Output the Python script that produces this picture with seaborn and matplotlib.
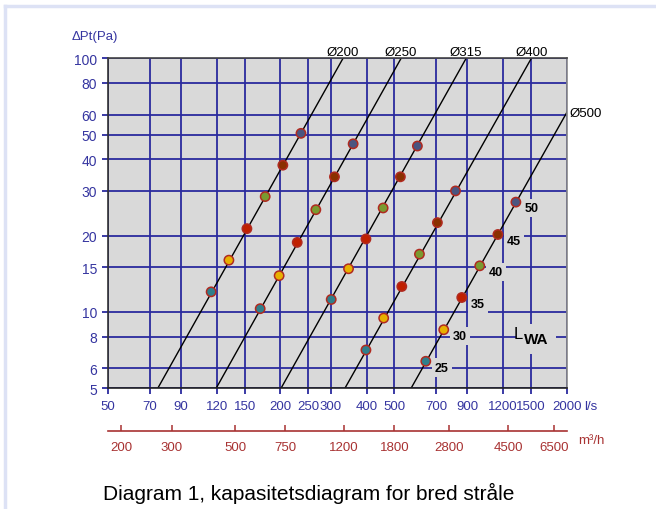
import matplotlib as mpl
import seaborn as sns
import pandas as pd
import numpy as np
from matplotlib.ticker import FixedLocator, NullLocator
from matplotlib.lines import Line2D
plt = mpl.pyplot

# line endpoints (flow in l/s at 5 Pa and at 100 Pa)
diameters = ['Ø200', 'Ø250', 'Ø315', 'Ø400', 'Ø500']
q_at_5pa = [74.6, 119.3, 201, 336, 572]
q_at_100pa = [331, 528, 891, 1505, 2560]

# noise levels marked on every line
lwa_levels = [25, 30, 35, 40, 45, 50]
q_200 = [114.6, 132.2, 152.8, 177, 204, 236]
dp_200 = [12.0, 16.0, 21.3, 28.5, 37.9, 50.6]
q_250 = [170, 198, 229, 266, 309, 359]
dp_250 = [10.3, 13.9, 18.8, 25.3, 34.1, 46.0]
q_315 = [301, 346, 398, 457, 525, 602]
dp_315 = [11.2, 14.8, 19.4, 25.7, 34.1, 45.1]
q_400 = [398, 459, 531, 612, 707, 818]
dp_400 = [7.08, 9.46, 12.6, 16.9, 22.5, 30.0]
q_500 = [644, 744, 860, 994, 1150, 1329]
dp_500 = [6.39, 8.51, 11.4, 15.2, 20.2, 27.1]

x_ticks = [50, 70, 90, 120, 150, 200, 250, 300, 400, 500, 700, 900, 1200, 1500, 2000]
y_ticks = [5, 6, 8, 10, 15, 20, 30, 40, 50, 60, 80, 100]
m3h_ticks = [200, 300, 500, 750, 1200, 1800, 2800, 4500, 6500]

lwa_colors = {25: '#2f7f8c', 30: '#e8b000', 35: '#c02000',
              40: '#7a9a30', 45: '#8a3000', 50: '#4a5580'}

mpl.rcParams['font.family'] = ['Liberation Sans', 'DejaVu Sans']

BLUE = '#2a2a9e'
TXTBLUE = '#3535a0'
RED = '#a83232'
BG = '#d9d9d9'

lines = pd.DataFrame({
    'd': diameters * 2,
    'q': q_at_5pa + q_at_100pa,
    'dp': [5] * len(diameters) + [100] * len(diameters),
})
pts = pd.DataFrame({
    'q': q_200 + q_250 + q_315 + q_400 + q_500,
    'dp': dp_200 + dp_250 + dp_315 + dp_400 + dp_500,
    'lwa': lwa_levels * 5,
})

fig = plt.figure(figsize=(6.56, 5.10), dpi=100)
ax = fig.add_axes([108 / 656, 1 - 389.3 / 510, 458.7 / 656, 330 / 510])
ax.set_facecolor(BG)
ax.set_xscale('log')
ax.set_yscale('log')

sns.lineplot(data=lines, x='q', y='dp', units='d', estimator=None,
             color='black', lw=1.0, ax=ax, zorder=2)
sns.scatterplot(data=pts, x='q', y='dp', hue='lwa', palette=lwa_colors,
                s=45, edgecolor='#b02a20', linewidth=1.1, legend=False,
                ax=ax, zorder=4)

ax.set_xlim(50, 2000)
ax.set_ylim(5, 100)
ax.xaxis.set_major_locator(FixedLocator(x_ticks))
ax.yaxis.set_major_locator(FixedLocator(y_ticks))
ax.xaxis.set_minor_locator(NullLocator())
ax.yaxis.set_minor_locator(NullLocator())
ax.set_xticklabels([str(v) for v in x_ticks])
ax.set_yticklabels([str(v) for v in y_ticks])
ax.tick_params(axis='both', colors=BLUE, labelcolor=TXTBLUE, length=4,
               width=1.3, labelsize=10)
ax.tick_params(axis='x', pad=4.5, labelsize=9.5)
ax.tick_params(axis='y', pad=4)
ax.grid(True, color=BLUE, lw=1.3, zorder=1)
ax.set_axisbelow(True)
ax.set_xlabel('')
ax.set_ylabel('')
for side, col in [('left', '#333333'), ('bottom', '#222222'),
                  ('top', '#444444'), ('right', '#888888')]:
    ax.spines[side].set_color(col)
    ax.spines[side].set_linewidth(1.2)

# diameter labels
for d, qt in zip(diameters[:4], q_at_100pa[:4]):
    ax.annotate(d, xy=(qt, 100), xytext=(0, 0.5), textcoords='offset points',
                ha='center', va='bottom', fontsize=9.5)
ax.annotate(diameters[4], xy=(1, 61), xycoords=('axes fraction', 'data'),
            xytext=(2, 0), textcoords='offset points', ha='left',
            va='center', fontsize=9.5)

# noise level labels along the last line
for q, dp, lw in zip(q_500, dp_500, lwa_levels):
    ax.annotate(str(lw), xy=(q, dp), xytext=(6.5, -4.5),
                textcoords='offset points', ha='left', va='center',
                fontsize=9, fontweight='bold', zorder=5,
                bbox=dict(boxstyle='square,pad=0.25', fc=BG, ec='none'))
# L_WA key: the WA box clears the grid, L sits on top of it
ax.text(0.906, 0.137, 'WA', transform=ax.transAxes, ha='left', va='baseline',
        fontsize=11, fontweight='bold', zorder=6,
        bbox=dict(boxstyle='square,pad=0.5', fc=BG, ec='none'))
ax.text(0.884, 0.152, 'L', transform=ax.transAxes, ha='left', va='baseline',
        fontsize=12, zorder=7)

# second flow scale in m3/h
sec = ax.secondary_xaxis(-0.129, functions=(lambda v: v * 3.6, lambda v: v / 3.6))
sec.xaxis.set_major_locator(FixedLocator(m3h_ticks))
sec.xaxis.set_minor_locator(NullLocator())
sec.set_xticklabels([str(v) for v in m3h_ticks])
sec.tick_params(axis='x', direction='in', colors=RED, labelcolor=RED,
                length=4, width=1.1, labelsize=9.5, pad=7)
sec.spines['bottom'].set_color(RED)
sec.spines['bottom'].set_linewidth(1.2)

fig.text(584 / 656, 1 - 407 / 510, 'l/s', color=TXTBLUE, fontsize=9.5,
         va='center', ha='left')
fig.text(578 / 656, 1 - 441 / 510, 'm³/h', color=RED, fontsize=9.5,
         va='center', ha='left')
fig.text(72 / 656, 1 - 37 / 510, 'ΔPt(Pa)', color=TXTBLUE, fontsize=9.5,
         va='center', ha='left')
fig.text(103 / 656, 1 - 493 / 510, 'Diagram 1, kapasitetsdiagram for bred stråle',
         fontsize=15, va='center', ha='left')

# light frame around the figure
fig.add_artist(Line2D([5 / 656, 1], [1 - 7 / 510, 1 - 7 / 510],
                      transform=fig.transFigure, color='#dde2f5', lw=2.5))
fig.add_artist(Line2D([5 / 656, 5 / 656], [0, 1 - 7 / 510],
                      transform=fig.transFigure, color='#dde2f5', lw=2.5))

plt.savefig('out.png', dpi=100)
